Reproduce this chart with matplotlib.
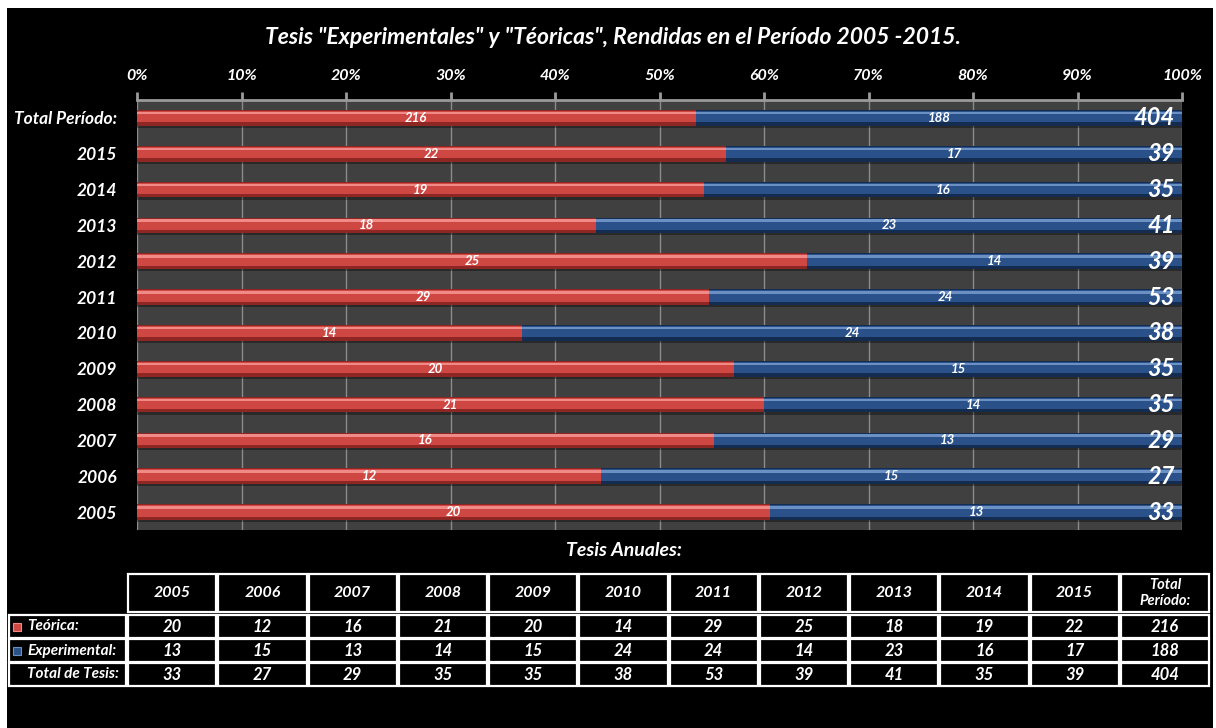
import numpy as np
import matplotlib.pyplot as plt
from matplotlib.patches import Rectangle

plt.rcParams['font.family'] = ['Lato', 'DejaVu Sans']

# data
years = ["2005", "2006", "2007", "2008", "2009", "2010", "2011", "2012", "2013", "2014", "2015"]
teorica = [20, 12, 16, 21, 20, 14, 29, 25, 18, 19, 22]
experimental = [13, 15, 13, 14, 15, 24, 24, 14, 23, 16, 17]
total_label = "Total Período:"
row_names = ["Teórica:", "Experimental:", "Total de Tesis:"]
title = 'Tesis "Experimentales" y "Téoricas", Rendidas en el Período 2005 -2015.'
subtitle = "Tesis Anuales:"

W, H = 1216, 728
fig = plt.figure(figsize=(W / 100, H / 100), dpi=100, facecolor="white")

# black panel (white margin top / left / right like the screenshot)
fig.patches.append(Rectangle((7 / W, 0), (1213 - 7) / W, 1 - 8 / H, transform=fig.transFigure,
                             facecolor="black", edgecolor="none", zorder=-10))

txt = dict(color="white", fontweight="bold", fontstyle="italic")

ax = fig.add_axes([137 / W, 1 - 530 / H, 1045 / W, 430 / H])
ax.set_facecolor("#404040")

labels = [total_label] + years[::-1]
teo = np.array([sum(teorica)] + teorica[::-1], dtype=float)
exp = np.array([sum(experimental)] + experimental[::-1], dtype=float)
tot = teo + exp
teo_p = teo / tot
exp_p = exp / tot
ypos = np.arange(len(labels))

red = ("#8e2624", "#cf4743", "#f08a86")
blue = ("#142c4f", "#2a5189", "#6a90c4")


def cylinder(y, left, width, cols):
    h = 0.44
    ax.barh(y + 0.06, width, left=left, height=h, color="black", alpha=0.35, zorder=2)
    ax.barh(y, width, left=left, height=h, color=cols[0], zorder=3)
    ax.barh(y - h * 0.07, width, left=left, height=h * 0.72, color=cols[1], zorder=3)
    ax.barh(y - h * 0.3, width, left=left, height=h * 0.16, color=cols[2], zorder=3)


for i in range(len(labels)):
    cylinder(ypos[i], 0, teo_p[i], red)
    cylinder(ypos[i], teo_p[i], exp_p[i], blue)
    ax.text(teo_p[i] / 2, ypos[i], str(int(teo[i])), ha="center", va="center", fontsize=9.5, zorder=5, **txt)
    ax.text(teo_p[i] + exp_p[i] / 2, ypos[i], str(int(exp[i])), ha="center", va="center", fontsize=9.5,
            zorder=5, **txt)
    ax.text(0.993, ypos[i], str(int(tot[i])), ha="right", va="center", fontsize=17, zorder=5, **txt)

ax.set_xlim(0, 1)
ax.set_ylim(len(labels) - 0.5, -0.5)
ax.xaxis.tick_top()
ax.set_xticks(np.arange(0, 1.01, 0.1))
ax.set_xticklabels(["%d%%" % (v * 10) for v in range(11)], fontsize=11.5, **txt)
ax.set_yticks(ypos)
ax.set_yticklabels(labels, fontsize=12.5, **txt)
ax.tick_params(axis="x", colors="#9a9a9a", length=6, width=2, pad=6, labelcolor="white")
ax.tick_params(axis="y", length=0, pad=14)
ax.grid(axis="x", color="#8c8c8c", lw=1, zorder=1)
ax.set_axisbelow(True)
for s in ["bottom", "left", "right"]:
    ax.spines[s].set_visible(False)
ax.spines["top"].set_color("#9a9a9a")
ax.spines["top"].set_linewidth(2)

fig.text(613 / W, 1 - 38 / H, title, ha="center", va="center", fontsize=16.5, **txt)
fig.text(624 / W, 1 - 550 / H, subtitle, ha="center", va="center", fontsize=14, **txt)


# table drawn in pixel space
def cell(x0, y0, x1, y1):
    fig.patches.append(Rectangle((x0 / W, 1 - y1 / H), (x1 - x0) / W, (y1 - y0) / H,
                                 transform=fig.transFigure, facecolor="black",
                                 edgecolor="white", lw=1.6))


col0 = 127
cw = (1210 - 127) / 12
header = years + ["Total\nPeríodo:"]
rows_y = [(615, 638), (639, 662), (663, 686)]
table_rows = [teorica + [sum(teorica)],
              experimental + [sum(experimental)],
              [a + b for a, b in zip(teorica, experimental)] + [sum(teorica) + sum(experimental)]]

for j, hd in enumerate(header):
    x0 = col0 + j * cw
    cell(x0 + 1, 574, x0 + cw - 1, 612)
    fs = 10.5 if "\n" in hd else 11.5
    fig.text((x0 + cw / 2) / W, 1 - 593 / H, hd, ha="center", va="center", fontsize=fs,
             linespacing=1.1, **txt)

for r, (y0, y1) in enumerate(rows_y):
    cell(9, y0, col0 - 1, y1)
    fig.text(27 / W, 1 - (y0 + y1) / 2 / H, row_names[r], ha="left", va="center", fontsize=11, **txt)
    for j, v in enumerate(table_rows[r]):
        x0 = col0 + j * cw
        cell(x0 + 1, y0, x0 + cw - 1, y1)
        fig.text((x0 + cw / 2) / W, 1 - (y0 + y1) / 2 / H, str(v), ha="center", va="center",
                 fontsize=12, **txt)

# legend keys in the table
for r, cols in enumerate([red, blue]):
    y0, y1 = rows_y[r]
    yc = (y0 + y1) / 2
    fig.patches.append(Rectangle((13 / W, 1 - (yc + 4) / H), 8 / W, 8 / H, transform=fig.transFigure,
                                 facecolor=cols[1], edgecolor=cols[2], lw=0.8))

fig.savefig("out.png", dpi=100, facecolor=fig.get_facecolor())
